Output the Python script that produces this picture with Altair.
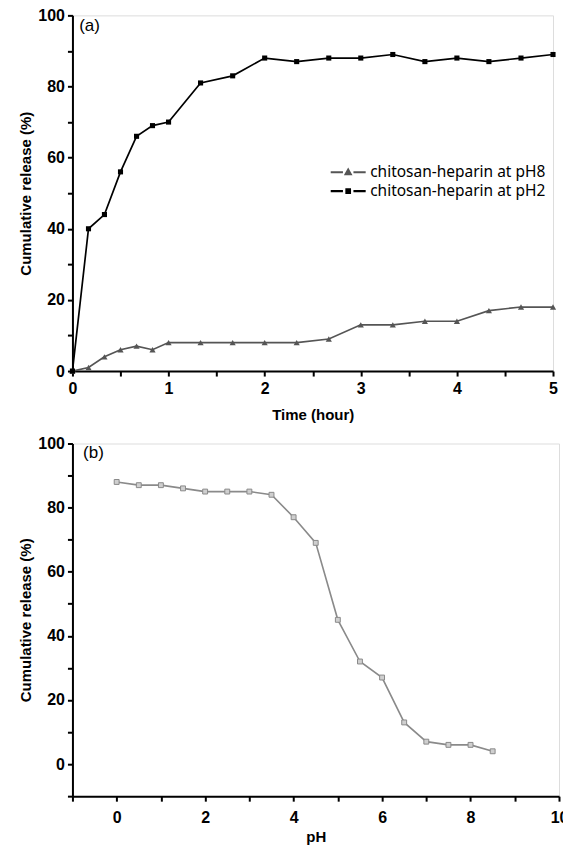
import altair as alt
import pandas as pd

# ---------------- data ----------------
time_hours = [0, 0.167, 0.333, 0.5, 0.667, 0.833, 1, 1.333, 1.667, 2, 2.333, 2.667,
              3, 3.333, 3.667, 4, 4.333, 4.667, 5]
release_ph8 = [0, 1, 4, 6, 7, 6, 8, 8, 8, 8, 8, 9, 13, 13, 14, 14, 17, 18, 18]
release_ph2 = [0, 40, 44, 56, 66, 69, 70, 81, 83, 88, 87, 88, 88, 89, 87, 88, 87, 88, 89]
series_names = ["chitosan-heparin at pH8", "chitosan-heparin at pH2"]
series_colors = ["#555555", "#000000"]

ph_values = [0, 0.5, 1, 1.5, 2, 2.5, 3, 3.5, 4, 4.5, 5, 5.5, 6, 6.5, 7, 7.5, 8, 8.5]
release_vs_ph = [88, 87, 87, 86, 85, 85, 85, 84, 77, 69, 45, 32, 27, 13, 7, 6, 6, 4]

time_ticks = [0, 0.5, 1, 1.5, 2, 2.5, 3, 3.5, 4, 4.5, 5]
a_y_ticks = [0, 10, 20, 30, 40, 50, 60, 70, 80, 90, 100]
ph_ticks = [-1, 0, 1, 2, 3, 4, 5, 6, 7, 8, 9, 10]
b_y_ticks = [-10, 0, 10, 20, 30, 40, 50, 60, 70, 80, 90, 100]

panel_labels = ["(a)", "(b)"]
panel_label_a_pos = [0.07, 97]
panel_label_b_pos = [-0.76, 97]

legend_paths = [
    "M-1,0H-0.3M0.3,0H1M-0.14,0.11L0,-0.14L0.14,0.11Z",
    "M-1,0H-0.3M0.3,0H1M-0.1,-0.1H0.1V0.1H-0.1Z",
]

df_a = pd.DataFrame({
    "time": time_hours * 2,
    "release": release_ph8 + release_ph2,
    "series": [series_names[0]] * len(time_hours) + [series_names[1]] * len(time_hours),
})
df_b = pd.DataFrame({"ph": ph_values, "release": release_vs_ph})
df_la = pd.DataFrame({"x": [panel_label_a_pos[0]], "y": [panel_label_a_pos[1]], "t": [panel_labels[0]]})
df_lb = pd.DataFrame({"x": [panel_label_b_pos[0]], "y": [panel_label_b_pos[1]], "t": [panel_labels[1]]})

# ---------------- styles ----------------
TICK_FONT = "Liberation Sans, Arial, sans-serif"
TITLE_FONT = "Liberation Sans, Arial, sans-serif"

def axis(values, label_expr, title, title_padding, label_padding, title_size=15, **kw):
    opts = dict(
        values=values, tickCount=40, labelExpr=label_expr, title=title, grid=False,
        domainColor="black", domainWidth=2, tickColor="black", tickWidth=2, tickSize=5,
        labelFont=TICK_FONT, labelFontWeight="bold", labelFontSize=16, labelColor="black",
        labelPadding=label_padding, labelOverlap=False, labelFlush=False, labelBound=False,
        titleFont=TITLE_FONT, titleFontWeight="bold", titleFontSize=title_size, titleColor="black",
        titlePadding=title_padding)
    opts.update(kw)
    return alt.Axis(**opts)

color_scale = alt.Scale(domain=series_names, range=series_colors)

shape_sig = "datum.value === '%s' ? '%s' : '%s'" % (series_names[0], legend_paths[0], legend_paths[1])
fill_sig = "datum.value === '%s' ? '%s' : '%s'" % (series_names[0], series_colors[0], series_colors[1])

leg = alt.Legend(title=None, orient="none", legendX=257, legendY=147.5, padding=0,
                 symbolSize=1225, symbolStrokeWidth=2.2, labelFont="Noto Sans", labelFontSize=15.5,
                 labelColor="black", labelOffset=3, rowPadding=0, symbolOpacity=1, clipHeight=19,
                 labelLimit=400,
                 symbolType=alt.ExprRef(shape_sig), symbolFillColor=alt.ExprRef(fill_sig))

# ---------------- panel (a) ----------------
xa = alt.X("time:Q", scale=alt.Scale(domain=[0, 5], nice=False, zero=False),
           axis=axis(time_ticks, "datum.value % 1 == 0 ? '' + datum.value : ''", "Time (hour)", 11.5, 4))
ya = alt.Y("release:Q", scale=alt.Scale(domain=[0, 100], nice=False),
           axis=axis(a_y_ticks, "datum.value % 20 == 0 ? '' + datum.value : ''", "Cumulative release (%)", 4, 3))

base_a = alt.Chart(df_a)
lines_a = base_a.mark_line(strokeWidth=1.7).encode(
    x=xa, y=ya, color=alt.Color("series:N", scale=color_scale, legend=leg), detail="series:N")
tri_a = base_a.transform_filter(alt.datum.series == series_names[0]).mark_point(
    shape="triangle-up", filled=True, size=38, opacity=1).encode(
    x=xa, y=ya, color=alt.Color("series:N", scale=color_scale, legend=None))
sq_a = base_a.transform_filter(alt.datum.series == series_names[1]).mark_point(
    shape="square", filled=True, size=26, opacity=1).encode(
    x=xa, y=ya, color=alt.Color("series:N", scale=color_scale, legend=None))
label_a = alt.Chart(df_la).mark_text(font="Liberation Sans, Arial, sans-serif", fontSize=17,
                                     align="left", baseline="middle", color="black").encode(
    x=alt.X("x:Q"), y=alt.Y("y:Q"), text="t:N")

panel_a = alt.layer(lines_a, tri_a, sq_a, label_a).properties(width=481, height=356)

# ---------------- panel (b) ----------------
xb = alt.X("ph:Q", scale=alt.Scale(domain=[-1, 10], nice=False, zero=False),
           axis=axis(ph_ticks, "datum.value >= 0 && datum.value % 2 == 0 ? '' + datum.value : ''", "pH", 4.5, 8,
                     title_size=15))
yb = alt.Y("release:Q", scale=alt.Scale(domain=[-10, 100], nice=False),
           axis=axis(b_y_ticks, "datum.value >= 0 && datum.value % 20 == 0 ? '' + datum.value : ''",
                     "Cumulative release (%)", 4, 3))
base_b = alt.Chart(df_b)
line_b = base_b.mark_line(color="#8a8a8a", strokeWidth=1.6).encode(x=xb, y=yb)
pts_b = base_b.mark_point(shape="square", filled=True, size=24, opacity=1, fill="#cfcfcf",
                          stroke="#8a8a8a", strokeWidth=1).encode(x=xb, y=yb)
label_b = alt.Chart(df_lb).mark_text(font="Liberation Sans, Arial, sans-serif", fontSize=17,
                                     align="left", baseline="middle", color="black").encode(
    x=alt.X("x:Q"), y=alt.Y("y:Q"), text="t:N")
panel_b = alt.layer(line_b, pts_b, label_b).properties(width=487, height=353)

chart = alt.vconcat(panel_a, panel_b, spacing=11.5).properties(
    padding={"left": 9.5, "top": -2, "right": -6, "bottom": 0}
).configure_view(stroke=None).configure(background="white")

chart.save("out.html", embed_options={"renderer": "svg", "actions": False})
